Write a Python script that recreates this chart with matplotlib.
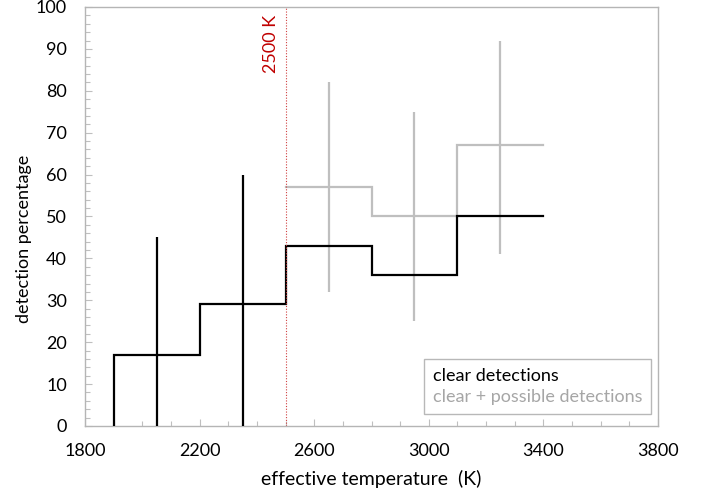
import matplotlib
matplotlib.use("Agg")
import matplotlib.pyplot as plt
from matplotlib.ticker import MultipleLocator
from matplotlib.patches import Rectangle

plt.rcParams['font.family'] = ['Lato', 'DejaVu Sans']

# Data
clear_edges = [1900, 2200, 2500, 2800, 3100, 3400]
clear_vals = [17, 29, 43, 36, 50]
clear_err_x = [2050, 2350]
clear_err_lo = [0, 0]
clear_err_hi = [45, 60]

poss_edges = [2500, 2800, 3100, 3400]
poss_vals = [57, 50, 67]
poss_err_x = [2650, 2950, 3250]
poss_err_lo = [32, 25, 41]
poss_err_hi = [82, 75, 92]

cut_T = 2500
x_ticks = [1800, 2200, 2600, 3000, 3400, 3800]

black = '#000000'
grey = '#bfbfbf'
red = '#c00000'

fig = plt.figure(figsize=(7.04, 4.95), dpi=100)
ax = fig.add_axes([0.1207, 0.1394, 0.8140, 0.8465])

# clear detections step
xs = [clear_edges[0]]
ys = [0]
for i, v in enumerate(clear_vals):
    xs += [clear_edges[i], clear_edges[i + 1]]
    ys += [v, v]
ax.plot(xs, ys, color=black, lw=1.6, solid_joinstyle='miter', zorder=3)
ax.vlines(clear_err_x, clear_err_lo, clear_err_hi, color=black, lw=1.6, zorder=3)

# clear + possible
xs2 = []
ys2 = []
for i, v in enumerate(poss_vals):
    xs2 += [poss_edges[i], poss_edges[i + 1]]
    ys2 += [v, v]
ax.plot(xs2, ys2, color=grey, lw=1.6, solid_joinstyle='miter', zorder=2)
ax.vlines(poss_err_x, poss_err_lo, poss_err_hi, color=grey, lw=1.6, zorder=2)

# cutoff line
ax.axvline(cut_T, color='#d04040', lw=0.8, ls=(0, (1, 1.5)), zorder=4)
ax.text(cut_T - 22, 98, '2500 K', rotation=90, color=red, ha='right', va='top', fontsize=13)

ax.set_xlim(1800, 3800)
ax.set_ylim(0, 100)
ax.set_xticks(x_ticks)
ax.xaxis.set_minor_locator(MultipleLocator(100))
ax.yaxis.set_major_locator(MultipleLocator(10))
ax.yaxis.set_minor_locator(MultipleLocator(2))
ax.tick_params(which='both', direction='in', color='#bfbfbf', labelsize=13, labelcolor='black')
ax.tick_params(which='major', length=5, width=0.8)
ax.tick_params(which='minor', length=3.5, width=0.8)
ax.tick_params(axis='x', pad=12)
ax.tick_params(axis='y', pad=13)
for s in ax.spines.values():
    s.set_color('#b5b5b5')
    s.set_linewidth(1.0)

ax.set_xlabel('effective temperature  (K)', fontsize=14, labelpad=8)
ax.set_ylabel('detection percentage', fontsize=13)
ax.yaxis.set_label_coords(-0.093, 0.446)

# legend box
leg = ax.legend(handles=[Rectangle((0, 0), 0, 0, visible=False), Rectangle((0, 0), 0, 0, visible=False)],
                labels=['clear detections', 'clear + possible detections'],
                loc='lower right', bbox_to_anchor=(0.988, 0.0286), borderaxespad=0,
                handlelength=0, handletextpad=0,
                fontsize=13, frameon=True, fancybox=False, borderpad=0.5, labelspacing=0.25)
leg.get_frame().set_edgecolor('#a6a6a6')
leg.get_frame().set_linewidth(1.0)
leg.get_texts()[0].set_color('black')
leg.get_texts()[1].set_color('#a6a6a6')

fig.savefig('out.png', dpi=100)
